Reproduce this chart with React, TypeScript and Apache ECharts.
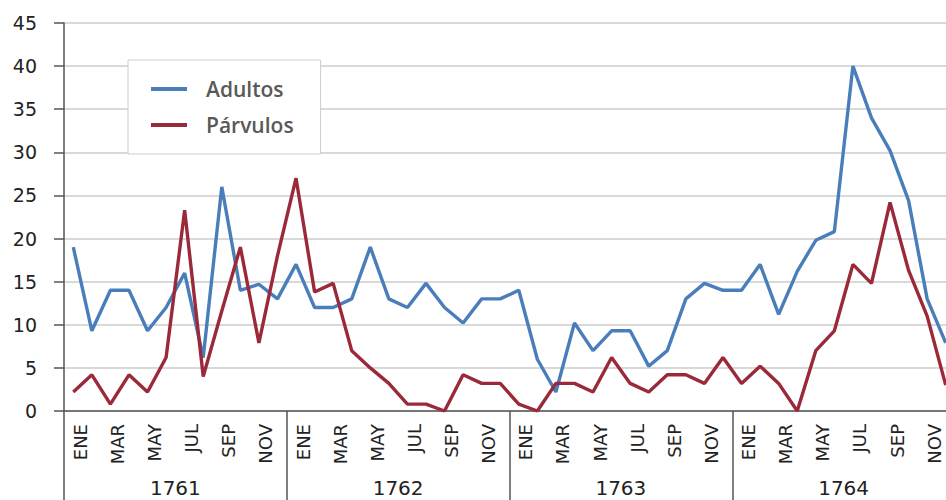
import React, { useEffect, useRef } from "react";
import * as echarts from "echarts";

const months = ["ENE", "FEB", "MAR", "ABR", "MAY", "JUN", "JUL", "AGO", "SEP", "OCT", "NOV", "DIC"];
const years = ["1761", "1762", "1763", "1764"];
const categories = years.flatMap((y) => months.map((m) => `${m} ${y}`));

const adultos = [
  19, 9.3, 14, 14, 9.3, 12, 16, 6.2, 26, 14, 14.7, 13,
  17, 12, 12, 13, 19, 13, 12, 14.8, 12, 10.2, 13, 13,
  14, 6, 2.2, 10.2, 7, 9.3, 9.3, 5.2, 7, 13, 14.8, 14,
  14, 17, 11.2, 16.2, 19.8, 20.8, 40, 34, 30.2, 24.4, 13, 7.9,
];
const parvulos = [
  2.2, 4.2, 0.8, 4.2, 2.2, 6.2, 23.3, 4, 11.6, 19, 7.9, 18,
  27, 13.8, 14.8, 7, 5, 3.2, 0.8, 0.8, 0, 4.2, 3.2, 3.2,
  0.8, 0, 3.2, 3.2, 2.2, 6.2, 3.2, 2.2, 4.2, 4.2, 3.2, 6.2,
  3.2, 5.2, 3.2, 0, 7, 9.3, 17, 14.8, 24.2, 16.3, 11, 3,
];
const yTicks = { min: 0, max: 45, interval: 5 };

export default function App() {
  const ref = useRef<HTMLDivElement>(null);
  useEffect(() => {
    if (!ref.current) return;
    const chart = echarts.init(ref.current, null, { renderer: "svg" });
    chart.setOption({
      animation: false,
      backgroundColor: "#ffffff",
      grid: { left: 64, right: -9, top: 23, bottom: 89, containLabel: false, outerBoundsMode: "none" },
      legend: {
        orient: "vertical",
        left: 128,
        top: 60,
        data: ["Adultos", "Párvulos"],
        icon: "rect",
        itemWidth: 36,
        itemHeight: 4,
        itemGap: 14,
        padding: [18, 27, 18, 23],
        backgroundColor: "#ffffff",
        borderColor: "#cccccc",
        borderWidth: 1,
        textStyle: {
          fontFamily: "Open Sans",
          fontWeight: 600,
          fontSize: 21,
          lineHeight: 22,
          color: "#595959",
          padding: [0, 0, 0, 14],
        },
      },
      xAxis: [
        {
          type: "category",
          data: categories,
          boundaryGap: true,
          position: "bottom",
          axisLine: { show: true, lineStyle: { color: "#555555", width: 1.5 } },
          axisTick: { show: false },
          splitLine: { show: false },
          axisLabel: {
            interval: 1,
            rotate: 90,
            margin: 13,
            fontFamily: "DejaVu Sans",
            fontSize: 18,
            lineHeight: 14,
            verticalAlign: "top",
            color: "#222222",
            formatter: (v: string) => v.split(" ")[0],
          },
        },
        {
          type: "category",
          data: years,
          boundaryGap: true,
          position: "bottom",
          axisLine: { show: false },
          axisTick: { show: true, interval: 0, length: 90, lineStyle: { color: "#555555", width: 1.5 } },
          splitLine: { show: false },
          axisLabel: {
            interval: 0,
            margin: 67,
            fontFamily: "DejaVu Sans",
            fontSize: 20,
            color: "#222222",
          },
        },
      ],
      yAxis: {
        type: "value",
        min: yTicks.min,
        max: yTicks.max,
        interval: yTicks.interval,
        axisLine: { show: true, lineStyle: { color: "#555555", width: 1.5 } },
        axisTick: { show: true, length: 10, lineStyle: { color: "#555555", width: 1.5 } },
        splitLine: { show: true, lineStyle: { color: "#cccccc", width: 1.5 } },
        axisLabel: {
          margin: 27,
          fontFamily: "DejaVu Sans",
          fontSize: 19,
          color: "#222222",
        },
      },
      series: [
        {
          name: "Adultos",
          type: "line",
          data: adultos,
          xAxisIndex: 0,
          symbol: "none",
          color: "#4a7ebb",
          lineStyle: { width: 3.4, color: "#4a7ebb" },
        },
        {
          name: "Párvulos",
          type: "line",
          data: parvulos,
          xAxisIndex: 0,
          symbol: "none",
          color: "#9a2a3a",
          lineStyle: { width: 3.4, color: "#9a2a3a" },
        },
      ],
    });
    return () => chart.dispose();
  }, []);
  return (
    <div
      ref={ref}
      style={{ position: "absolute", left: 0, top: 0, width: 946, height: 500 }}
    />
  );
}
